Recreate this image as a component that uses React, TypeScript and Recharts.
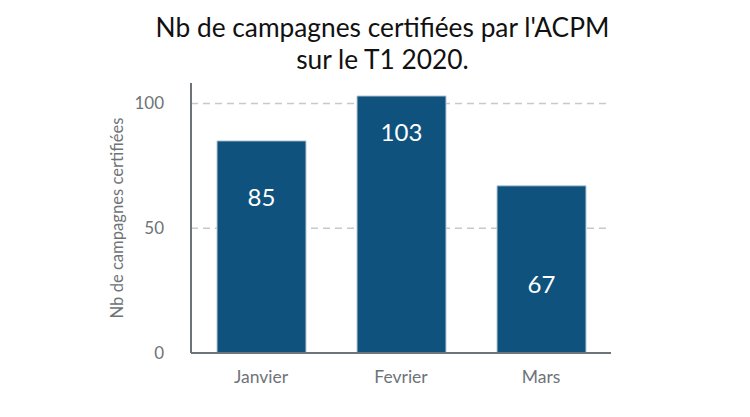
import { BarChart, Bar, XAxis, YAxis, CartesianGrid, LabelList } from "recharts";

const months = ["Janvier", "Fevrier", "Mars"];
const campaigns = [85, 103, 67];
const yTicks = [0, 50, 100];
const gridValues = [50, 100];

const data = months.map((month, i) => ({ month, value: campaigns[i] }));

// distance (px) from bar top to the centre of its value label, per bar
const labelDrop = [56, 36, 98];

const axisColor = "#6e7378";
const textColor = "#6e7378";
const barColor = "#0e527d";

const renderLabel = (props: any) => {
  const { x, y, width, value, index } = props;
  return (
    <text
      x={x + width / 2}
      y={y + labelDrop[index]}
      textAnchor="middle"
      dominantBaseline="central"
      fill="#ffffff"
      fontSize={24}
      fontFamily="Lato, sans-serif"
    >
      {value}
    </text>
  );
};

const App = () => {
  return (
    <div style={{ position: "absolute", left: 0, top: 0, width: 750, height: 417, background: "#fff", fontFamily: "Lato, sans-serif" }}>
      <div
        style={{
          position: "absolute",
          left: 0,
          width: 765,
          top: 11,
          textAlign: "center",
          fontSize: 26.3,
          lineHeight: "32px",
          color: "#111",
        }}
      >
        Nb de campagnes certifiées par l'ACPM
        <br />
        sur le T1 2020.
      </div>
      <BarChart
        width={750}
        height={417}
        data={data}
        margin={{ top: 83, right: 139, bottom: 0, left: 0 }}
        barSize={89}
      >
        <CartesianGrid
          vertical={false}
          horizontalValues={gridValues}
          stroke="#c5c8cc"
          strokeWidth={1.5}
          strokeDasharray="7 5"
        />
        <XAxis
          dataKey="month"
          height={64}
          axisLine={{ stroke: axisColor, strokeWidth: 2 }}
          tickLine={false}
          tickSize={0}
          tickMargin={18}
          tick={{ fill: textColor, fontSize: 17.5, fontFamily: "Lato, sans-serif" }}
        />
        <YAxis
          width={191}
          domain={[0, 108.2]}
          ticks={yTicks}
          axisLine={{ stroke: axisColor, strokeWidth: 2 }}
          tickLine={false}
          tickSize={0}
          tickMargin={27}
          tick={{ fill: textColor, fontSize: 17, fontFamily: "Lato, sans-serif" }}
          label={{
            value: "Nb de campagnes certifiées",
            angle: -90,
            position: "insideLeft",
            dx: 112,
            style: { fill: textColor, fontSize: 16.6, fontFamily: "Lato, sans-serif", textAnchor: "middle" },
          }}
        />
        <Bar dataKey="value" fill={barColor} stroke="#b9c9d6" strokeWidth={1} isAnimationActive={false}>
          <LabelList dataKey="value" content={renderLabel} />
        </Bar>
      </BarChart>
    </div>
  );
};

export default App;
